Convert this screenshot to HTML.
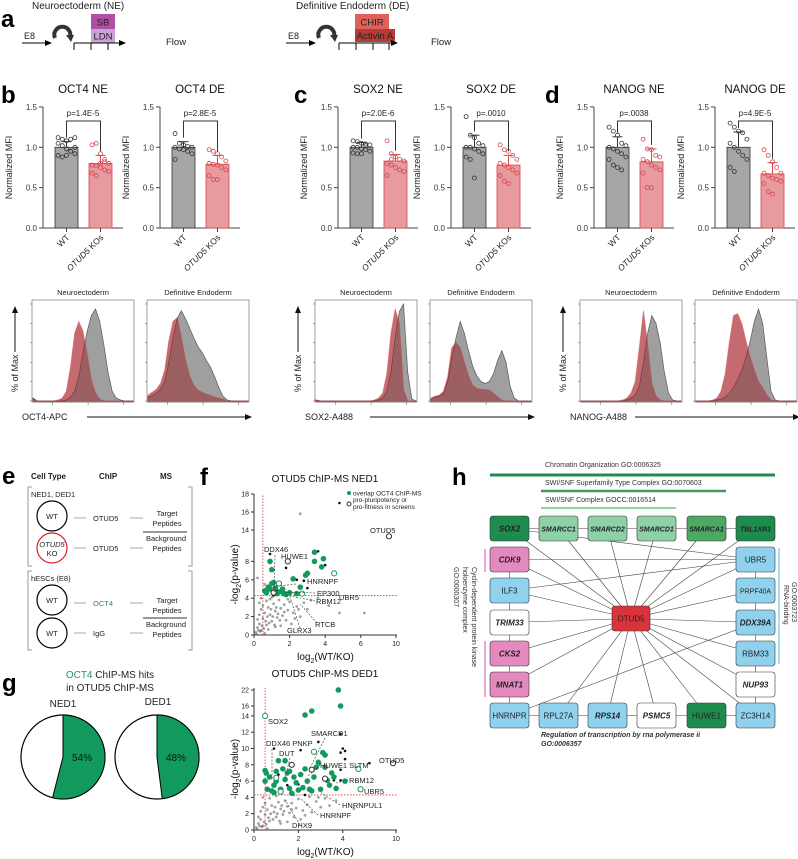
<!DOCTYPE html>
<html><head><meta charset="utf-8">
<style>
body{margin:0;background:#fff;}
svg{display:block;font-family:"Liberation Sans",Arial,sans-serif;}
.L{font-size:24px;font-weight:bold;fill:#000}
</style></head>
<body>
<svg id="fig" width="798" height="859" viewBox="0 0 798 859" xmlns="http://www.w3.org/2000/svg">
<!-- Panel a -->
<g>
 <text class="L" x="1" y="27">a</text>
 <text x="32" y="9" font-size="10" fill="#222">Neuroectoderm (NE)</text>
 <text x="24" y="39" font-size="9" fill="#222">E8</text>
 <line x1="22" y1="43" x2="48" y2="43" stroke="#000" stroke-width="1"/><polygon points="52,43 45,40 45,46" fill="#000"/>
 <path d="M55,38 A8,8 0 1 1 70,37" stroke="#333" stroke-width="4" fill="none"/><polygon points="66,35 74,35 71,42" fill="#333"/>
 <rect x="91" y="14" width="24" height="15" fill="#b04fa6"/>
 <rect x="91" y="29" width="24" height="14" fill="#c9a3d3"/>
 <text x="103" y="25.5" font-size="9.5" text-anchor="middle" fill="#222">SB</text>
 <text x="103" y="39.5" font-size="9.5" text-anchor="middle" fill="#222">LDN</text>
 <line x1="74" y1="43" x2="122" y2="43" stroke="#000"/><polygon points="126,43 119,40 119,46" fill="#000"/>
 <line x1="74" y1="43" x2="74" y2="50" stroke="#000"/><line x1="91" y1="43" x2="91" y2="50" stroke="#000"/><line x1="108" y1="43" x2="108" y2="50" stroke="#000"/>
 <text x="166" y="45" font-size="9.5" fill="#222">Flow</text>
 <text x="296" y="9" font-size="10" fill="#222">Definitive Endoderm (DE)</text>
 <text x="288" y="39" font-size="9" fill="#222">E8</text>
 <line x1="286" y1="43" x2="312" y2="43" stroke="#000"/><polygon points="316,43 309,40 309,46" fill="#000"/>
 <path d="M319,38 A8,8 0 1 1 334,37" stroke="#333" stroke-width="4" fill="none"/><polygon points="330,35 338,35 335,42" fill="#333"/>
 <rect x="355" y="14" width="34" height="15" fill="#e0605a"/>
 <rect x="355" y="29" width="40" height="13" fill="#b83a34"/>
 <text x="372" y="25.5" font-size="9.5" text-anchor="middle" fill="#222">CHIR</text>
 <text x="375" y="39" font-size="9.5" text-anchor="middle" fill="#222">Activin A</text>
 <line x1="339" y1="43" x2="394" y2="43" stroke="#000"/><polygon points="398,43 391,40 391,46" fill="#000"/>
 <line x1="339" y1="43" x2="339" y2="50" stroke="#000"/><line x1="356" y1="43" x2="356" y2="50" stroke="#000"/><line x1="373" y1="43" x2="373" y2="50" stroke="#000"/><line x1="389" y1="43" x2="389" y2="50" stroke="#000"/>
 <text x="431" y="45" font-size="9.5" fill="#222">Flow</text>
</g>
<text class="L" x="1" y="103">b</text>
<text class="L" x="294" y="103">c</text>
<text class="L" x="545" y="103">d</text>
<g id="bars"></g>
<g id="hists"></g>

<!-- Panel e -->
<g font-size="7.5" fill="#222">
 <text class="L" x="2" y="484">e</text>
 <text x="31" y="479" font-size="8" font-weight="bold">Cell Type</text>
 <text x="99" y="479" font-size="8" font-weight="bold">ChIP</text>
 <text x="160" y="479" font-size="8" font-weight="bold">MS</text>
 <path d="M32,487 H28 V566 H32 M188,487 H192 V566 H188" stroke="#999" fill="none"/>
 <path d="M32,571 H28 V650 H32 M188,571 H192 V650 H188" stroke="#999" fill="none"/>
 <text x="31" y="497">NED1, DED1</text>
 <circle cx="52" cy="516" r="15" fill="none" stroke="#000" stroke-width="1.2"/>
 <text x="52" y="519" text-anchor="middle">WT</text>
 <circle cx="52" cy="548" r="15" fill="none" stroke="#d22" stroke-width="1.2"/>
 <text x="52" y="547" text-anchor="middle" font-style="italic">OTUD5</text><text x="52" y="556" text-anchor="middle">KO</text>
 <text x="31" y="581">hESCs (E8)</text>
 <circle cx="52" cy="600" r="15" fill="none" stroke="#000" stroke-width="1.2"/>
 <text x="52" y="603" text-anchor="middle">WT</text>
 <circle cx="52" cy="633" r="15" fill="none" stroke="#000" stroke-width="1.2"/>
 <text x="52" y="636" text-anchor="middle">WT</text>
 <g stroke="#aaa"><line x1="74" y1="518" x2="86" y2="518"/><line x1="74" y1="548" x2="86" y2="548"/><line x1="74" y1="603" x2="86" y2="603"/><line x1="74" y1="633" x2="86" y2="633"/>
 <line x1="130" y1="518" x2="143" y2="518"/><line x1="130" y1="548" x2="143" y2="548"/><line x1="130" y1="603" x2="143" y2="603"/><line x1="130" y1="633" x2="143" y2="633"/></g>
 <text x="93" y="521">OTUD5</text><text x="93" y="551">OTUD5</text>
 <text x="93" y="606" fill="#1a9a5a">OCT4</text><text x="93" y="636">IgG</text>
 <text x="167" y="516" text-anchor="middle">Target</text><text x="167" y="526" text-anchor="middle">Peptides</text>
 <line x1="143" y1="532" x2="187" y2="532" stroke="#333"/>
 <text x="166" y="541" text-anchor="middle">Background</text><text x="167" y="551" text-anchor="middle">Peptides</text>
 <text x="167" y="603" text-anchor="middle">Target</text><text x="167" y="613" text-anchor="middle">Peptides</text>
 <line x1="143" y1="618" x2="187" y2="618" stroke="#333"/>
 <text x="166" y="627" text-anchor="middle">Background</text><text x="167" y="637" text-anchor="middle">Peptides</text>
</g>
<!-- Panel g -->
<g>
 <text class="L" x="2" y="691">g</text>
 <text x="110" y="678" font-size="10" text-anchor="middle" fill="#222"><tspan fill="#1a9a5a">OCT4</tspan> ChIP-MS hits</text>
 <text x="110" y="691" font-size="10" text-anchor="middle" fill="#222">in OTUD5 ChIP-MS</text>
 <text x="63" y="707" font-size="10" text-anchor="middle" fill="#222">NED1</text>
 <text x="158" y="705" font-size="10" text-anchor="middle" fill="#222">DED1</text>
 <g id="pies"></g>
</g>
<g id="scatters">
 <text class="L" x="200" y="485">f</text>
</g>
<g id="network">
 <text class="L" x="452" y="485">h</text>
</g>
</svg>
<script>
// ---------- Bar chart data ----------
const barTitles = ['OCT4 NE','OCT4 DE','SOX2 NE','SOX2 DE','NANOG NE','NANOG DE'];
const wtMeans = [1.0,1.0,1.0,1.0,1.0,1.0];
const koMeans = [0.80,0.79,0.83,0.78,0.82,0.67];
const wtSD = [0.07,0.07,0.06,0.15,0.13,0.19];
const koSD = [0.10,0.11,0.08,0.12,0.16,0.14];
const pLabels = ['p=1.4E-5','p=2.8E-5','p=2.0E-6','p=.0010','p=.0038','p=4.9E-5'];
const wtDots = [
 [1.12,1.10,1.08,1.10,1.12,1.05,1.02,0.98,0.95,0.92,0.90,0.88,0.90,0.95,1.00],
 [1.17,1.05,1.03,1.01,1.00,1.00,0.98,0.97,0.95,0.92,0.85],
 [1.08,1.07,1.05,1.04,1.03,1.00,1.00,0.98,0.97,0.95,0.93,0.92,0.92,1.02],
 [1.38,1.15,1.12,1.05,1.02,1.00,1.00,0.98,0.95,0.92,0.88,0.85,0.62],
 [1.25,1.20,1.15,1.05,1.02,1.00,0.98,0.95,0.92,0.88,0.85,0.78,0.75,0.72],
 [1.30,1.25,1.20,1.18,1.10,1.05,1.00,0.95,0.90,0.85,0.75,0.70]];
const koDots = [
 [1.03,1.05,0.92,0.85,0.80,0.78,0.77,0.75,0.72,0.70,0.68,0.65,0.80,0.82],
 [0.97,0.95,0.92,0.88,0.83,0.80,0.79,0.78,0.75,0.72,0.65,0.60,0.60],
 [1.08,0.92,0.88,0.85,0.83,0.80,0.78,0.75,0.72,0.70,0.65,0.85],
 [1.03,0.97,0.95,0.90,0.85,0.80,0.78,0.75,0.72,0.68,0.65,0.58,0.55],
 [1.10,0.98,0.97,0.90,0.88,0.85,0.82,0.78,0.75,0.72,0.68,0.50,0.50],
 [0.97,0.90,0.82,0.75,0.68,0.68,0.65,0.62,0.60,0.58,0.55,0.45,0.42]];
const yTicks = [0.0,0.5,1.0,1.5];
// ---------- Histogram data (% of max per bin, 25 log bins) ----------
const histTitles = ['Neuroectoderm','Definitive Endoderm','Neuroectoderm','Definitive Endoderm','Neuroectoderm','Definitive Endoderm'];
const histWT = [
 [3,0,0,0,0,0,0,0,1,4,10,25,50,72,88,95,82,58,30,10,3,1,0,0,0],
 [4,5,8,12,20,40,65,85,93,85,75,65,56,50,42,35,25,14,5,1,0,0,0,0,0],
 [1,0,0,0,0,0,0,0,0,0,0,0,0,0,0,1,3,10,30,65,92,100,30,2,0],
 [2,4,5,8,20,45,65,82,70,52,36,26,20,18,20,28,42,52,40,15,3,0,0,0,0],
 [0,0,0,0,0,0,0,0,0,0,0,1,3,6,15,40,70,88,80,60,30,8,1,0,0],
 [0,0,0,0,0,1,2,4,8,14,22,32,45,62,82,95,80,45,10,1,0,0,0,0,0]];
const histKO = [
 [3,0,0,0,0,0,1,3,10,35,70,82,72,48,22,8,2,0,0,0,0,0,0,0,0],
 [6,9,12,18,32,62,82,86,66,42,26,16,11,9,7,6,4,3,2,0,0,0,0,0,0],
 [1,0,0,0,0,0,0,0,0,0,0,0,0,0,1,3,8,28,70,95,80,12,0,0,0],
 [3,5,6,10,25,55,60,55,40,26,16,13,12,12,11,8,4,1,0,0,0,0,0,0,0],
 [0,0,0,0,0,0,0,0,0,0,1,3,8,20,55,93,58,18,5,1,0,0,0,0,0],
 [0,0,0,0,1,3,10,28,60,88,90,80,62,45,32,20,14,6,1,0,0,0,0,0,0]];
const histXLabels = ['OCT4-APC','SOX2-A488','NANOG-A488'];
// ---------- Scatter data ----------
const nedGreen = [[0.7,4.6],[0.8,5.2],[0.9,8.0],[1.0,7.1],[1.0,5.6],[1.1,5.7],[1.2,5.1],[0.9,5.0],[1.3,4.5],[1.5,4.7],[1.7,4.5],[2.2,6.1],[2.6,5.2],[2.9,6.5],[3.0,6.7],[3.4,8.0],[3.4,9.0],[3.8,7.4],[3.9,8.3],[1.8,4.4],[2.4,4.5],[0.6,4.8],[1.6,5.0],[2.0,4.6]];
const nedGreenOpen = [[1.4,5.6],[2.7,4.5],[4.5,6.7]];
const nedBlackOpen = [[1.9,8.0],[9.2,13.3],[1.1,4.6]];
const nedBlack = [[0.9,8.8],[1.8,7.3],[3.6,9.1],[4.0,7.6],[2.4,6.0],[2.8,5.9],[3.0,5.1],[4.8,17.0],[1.3,4.9],[2.4,4.4],[1.1,4.3]];
const nedGray = [[0.1,0.3],[0.2,0.8],[0.3,1.2],[0.4,0.5],[0.5,1.8],[0.6,2.4],[0.7,1.1],[0.8,3.0],[0.9,2.2],[1.0,1.5],[1.1,3.4],[1.2,2.6],[1.3,1.9],[1.4,3.8],[1.5,2.9],[1.6,2.1],[1.7,3.3],[1.8,1.6],[1.9,2.7],[2.0,3.6],[2.2,2.4],[2.4,3.1],[2.6,2.0],[2.8,3.5],[3.0,2.8],[3.2,3.8],[0.3,2.2],[0.5,3.2],[0.4,4.0],[0.6,5.5],[0.2,6.2],[0.8,0.6],[1.2,0.9],[0.2,1.7],[0.7,3.7],[1.0,4.1],[2.1,1.2],[1.5,1.0],[4.8,2.4],[6.2,2.4],[3.6,4.0],[4.2,3.2],[2.6,15.8],[0.9,3.9],[0.15,0.1],[0.35,0.4],[0.45,1.0],[0.55,0.7],[0.65,1.5],[0.75,2.0],[0.85,1.3],[0.95,2.8],[1.05,2.0],[1.15,1.1],[1.25,3.0],[1.35,2.3],[1.45,1.6],[0.25,0.5],[0.6,0.2],[1.7,2.5],[1.9,3.9],[2.3,1.8],[2.5,2.8],[0.4,2.8],[0.3,3.5]];
const dedGreen = [[0.5,7.3],[0.5,6.0],[0.6,5.0],[0.55,7.0],[0.7,6.5],[0.8,4.8],[0.9,5.5],[1.0,7.2],[1.0,6.0],[1.1,8.5],[1.2,5.0],[1.3,7.5],[1.4,8.5],[1.5,7.0],[1.4,6.2],[1.6,5.1],[1.6,7.2],[1.8,6.5],[1.9,5.8],[2.0,4.9],[2.1,6.8],[2.2,5.2],[2.3,7.5],[2.4,6.0],[2.5,5.0],[2.6,4.8],[2.7,6.5],[2.8,7.7],[3.0,5.0],[3.1,9.5],[3.2,9.2],[3.3,6.1],[3.4,5.5],[3.5,7.0],[3.6,6.5],[3.7,5.1],[3.8,22.0],[3.9,16.0],[2.3,14.2],[2.6,15.0],[4.1,6.0],[1.7,4.5],[0.9,4.6],[2.9,8.3],[3.2,7.7]];
const dedGreenOpen = [[0.5,14.0],[2.7,9.6],[4.7,7.5],[4.8,5.0],[1.2,4.7],[1.0,6.4]];
const dedBlackOpen = [[1.7,8.0],[2.6,7.4],[3.2,6.3],[9.5,8.2]];
const dedBlack = [[0.9,10.0],[2.1,9.8],[2.9,10.8],[3.9,11.8],[4.0,10.0],[4.1,9.7],[3.9,9.5],[3.9,7.4],[4.1,8.7],[5.2,8.2],[3.6,6.1],[3.9,6.1],[1.5,5.5],[2.3,4.3],[1.1,6.8],[2.0,5.6]];
const dedGray = [[0.1,0.3],[0.2,0.8],[0.3,1.3],[0.4,0.5],[0.5,1.9],[0.6,2.5],[0.7,1.1],[0.8,3.0],[0.9,2.2],[1.0,1.6],[1.1,3.4],[1.2,2.6],[1.3,1.9],[1.4,3.6],[1.5,2.9],[1.6,2.1],[1.7,3.3],[1.8,1.6],[1.9,2.7],[2.0,3.8],[2.2,2.4],[2.4,3.1],[2.6,2.2],[2.8,3.5],[3.0,2.8],[3.2,3.9],[3.4,3.0],[3.7,3.6],[0.3,2.3],[0.5,3.3],[0.4,4.0],[0.7,3.9],[1.0,4.2],[2.1,1.3],[1.5,1.0],[1.2,0.8],[0.2,1.6],[4.5,2.6],[0.15,0.1],[0.35,0.4],[2.5,4.1],[1.8,4.3],[0.45,1.0],[0.55,0.7],[0.65,1.5],[0.75,2.0],[0.85,1.3],[0.95,2.8],[1.05,2.0],[1.15,1.1],[1.25,3.0],[1.35,2.3],[0.25,0.5],[0.6,0.2],[1.7,2.5],[2.3,1.8],[0.4,2.8],[2.9,4.0]];
// ---------- Pie data ----------
const pieLabels = ['NED1','DED1'];
const piePercents = [54,48];

const NS='http://www.w3.org/2000/svg';
function mk(parent,tag,attrs,text){const e=document.createElementNS(NS,tag);for(const k in attrs)e.setAttribute(k,attrs[k]);if(text!==undefined)e.textContent=text;parent.appendChild(e);return e;}

// ---------- Bars ----------
const barsG=document.getElementById('bars');
const axisXs=[43,160,338,451,594,715];
const y0=228, yScale=80.7;
function by(v){return y0-v*yScale;}
barTitles.forEach((title,c)=>{
 const ax=axisXs[c];
 const g=mk(barsG,'g',{});
 
 
 const tt=mk(g,'text',{x:ax+40,y:93,'text-anchor':'middle','font-size':11.5,fill:'#111'},title);
 
 
 const yl=mk(g,'text',{x:0,y:0,transform:`translate(${ax-31},${by(0.75)}) rotate(-90)`,'text-anchor':'middle','font-size':9,fill:'#222'},'Normalized MFI');
 
 
 mk(g,'line',{x1:ax,y1:by(1.5),x2:ax,y2:y0,stroke:'#444'});
 mk(g,'line',{x1:ax,y1:y0,x2:ax+80,y2:y0,stroke:'#444'});
 yTicks.forEach(t=>{mk(g,'line',{x1:ax-4,y1:by(t),x2:ax,y2:by(t),stroke:'#444'});
  const tl=mk(g,'text',{x:ax-6,y:by(t)+3,'text-anchor':'end','font-size':8,fill:'#333'},t.toFixed(1));
  
  });
 const groups=[{m:wtMeans[c],sd:wtSD[c],d:wtDots[c],x:ax+12,fill:'#a6a6a6',stroke:'#333',dot:'#333',name:'wt'},
               {m:koMeans[c],sd:koSD[c],d:koDots[c],x:ax+46,fill:'#e89a9e',stroke:'#d9454c',dot:'#d9454c',name:'ko'}];
 groups.forEach(gr=>{
  const r=mk(g,'rect',{x:gr.x,y:by(gr.m),width:23,height:y0-by(gr.m),fill:gr.fill,stroke:gr.stroke,'stroke-width':0.8});
  
  
  const cx=gr.x+11.5;
  mk(g,'line',{x1:cx,y1:by(gr.m+gr.sd),x2:cx,y2:by(gr.m),stroke:gr.dot});
  mk(g,'line',{x1:cx-5,y1:by(gr.m+gr.sd),x2:cx+5,y2:by(gr.m+gr.sd),stroke:gr.dot});
  gr.d.forEach((v,i)=>{const ci=mk(g,'circle',{cx:cx+((i%5)-2)*4.2,cy:by(v),r:2,fill:'none',stroke:gr.dot,'stroke-width':0.8});
   
   });
  mk(g,'line',{x1:cx,y1:y0,x2:cx,y2:y0+4,stroke:'#444'});
 });
 const topY=121;
 mk(g,'path',{d:`M${ax+23.5},${by(1+wtSD[c])-4} V${topY} H${ax+57.5} V${by(koMeans[c]+koSD[c])-4}`,stroke:'#333',fill:'none'});
 const pl=mk(g,'text',{x:ax+40,y:topY-5,'text-anchor':'middle','font-size':8,fill:'#222'},pLabels[c]);
 
 
 const w=mk(g,'text',{x:0,y:0,transform:`translate(${ax+27},${y0+10}) rotate(-45)`,'text-anchor':'end','font-size':8.5,fill:'#222'},'WT');
 
 
 const k=mk(g,'text',{x:0,y:0,transform:`translate(${ax+61},${y0+10}) rotate(-45)`,'text-anchor':'end','font-size':8.5,fill:'#222'});
 
 
 mk(k,'tspan',{'font-style':'italic'},'OTUD5');mk(k,'tspan',{},' KOs');
});

// ---------- Histograms ----------
const hG=document.getElementById('hists');
const boxXs=[32,147,315,430,580,695];
const hTop=300,hBot=402,bw=102;
histTitles.forEach((t,h)=>{
 const bx=boxXs[h];
 const g=mk(hG,'g',{});
 
 
 const tl=mk(g,'text',{x:bx+bw/2,y:hTop-5,'text-anchor':'middle','font-size':7.5,fill:'#222'},t);
 
 
 const hx=i=>bx+1+i*(bw-2)/24, hy=v=>hBot-1-v*0.97;
 const mkPath=arr=>'M'+hx(0)+','+hBot+' '+arr.map((v,i)=>'L'+hx(i).toFixed(1)+','+hy(v).toFixed(1)).join(' ')+' L'+hx(24)+','+hBot+' Z';
 const p1=mk(g,'path',{d:mkPath(histKO[h]),fill:'#e08a8e',opacity:0.85,stroke:'none'});
 
 
 const p2=mk(g,'path',{d:mkPath(histWT[h]),fill:'#808080',opacity:0.75,stroke:'#222','stroke-width':0.7});
 
 
 const p3=mk(g,'path',{d:mkPath(histKO[h]),fill:'#a03035',opacity:0.45,stroke:'#c41e25','stroke-width':0.9});
 
 
 mk(g,'rect',{x:bx,y:hTop,width:bw,height:hBot-hTop,fill:'none',stroke:'#888','stroke-width':0.8});
 [0,20,40,60,80,100].forEach(v=>{mk(g,'line',{x1:bx-2,y1:hy(v),x2:bx,y2:hy(v),stroke:'#555','stroke-width':0.5});});
 [0.2,0.55,0.9].forEach(f=>{mk(g,'line',{x1:bx+bw*f,y1:hBot,x2:bx+bw*f,y2:hBot+3,stroke:'#555','stroke-width':0.5});});
 if(h%2===0){
  const yl=mk(g,'text',{x:0,y:0,transform:`translate(${bx-14},${hBot-10}) rotate(-90)`,'font-size':9,fill:'#222'},'% of Max');
  
  
  mk(g,'line',{x1:bx-17,y1:hBot-50,x2:bx-17,y2:hTop+12,stroke:'#111'});
  mk(g,'polygon',{points:`${bx-17},${hTop+6} ${bx-20},${hTop+13} ${bx-14},${hTop+13}`,fill:'#111'});
  const xl=mk(g,'text',{x:bx-10,y:hBot+18,'font-size':9,fill:'#222'},histXLabels[h/2]);
  
  
  mk(g,'line',{x1:bx+55,y1:hBot+15,x2:bx+bw*2+10,y2:hBot+15,stroke:'#111'});
  mk(g,'polygon',{points:`${bx+bw*2+16},${hBot+15} ${bx+bw*2+9},${hBot+12} ${bx+bw*2+9},${hBot+18}`,fill:'#111'});
 }
});

// ---------- Pies ----------
const pG=document.getElementById('pies');
const pieCx=[63,157], pieCy=757, pieR=42;
piePercents.forEach((p,i)=>{
 const cx=pieCx[i];
 const bg=mk(pG,'circle',{cx:cx,cy:pieCy,r:pieR,fill:'#fff',stroke:'#000','stroke-width':1.2});
 
 
 const a=p/100*2*Math.PI;
 const ex=cx+pieR*Math.sin(a), ey=pieCy-pieR*Math.cos(a);
 const s=mk(pG,'path',{d:`M${cx},${pieCy} L${cx},${pieCy-pieR} A${pieR},${pieR} 0 ${p>50?1:0} 1 ${ex},${ey} Z`,fill:'#129a5e',stroke:'#000','stroke-width':1});
 
 
 const l=mk(pG,'text',{x:cx+19,y:pieCy+4,'text-anchor':'middle','font-size':10,fill:'#111'},p+'%');
 
 
});

// ---------- Scatters ----------
const sG=document.getElementById('scatters');
function scatter(cfg){
 const g=mk(sG,'g',{});
 
 
 const {sx,sy,x0,yb,xEnd,yTop}=cfg;
 const t=mk(g,'text',{x:cfg.titleX,y:cfg.titleY,'text-anchor':'middle','font-size':10,fill:'#111'},cfg.title);
 
 
 mk(g,'line',{x1:x0,y1:yb,x2:x0,y2:yTop,stroke:'#333'});
 mk(g,'line',{x1:x0,y1:yb,x2:xEnd,y2:yb,stroke:'#333'});
 cfg.xt.forEach(v=>{mk(g,'line',{x1:sx(v),y1:yb,x2:sx(v),y2:yb+3,stroke:'#333'});mk(g,'text',{x:sx(v),y:yb+11,'text-anchor':'middle','font-size':7,fill:'#222'},v);});
 cfg.yt.forEach(v=>{mk(g,'line',{x1:x0-3,y1:sy(v),x2:x0,y2:sy(v),stroke:'#333'});mk(g,'text',{x:x0-5,y:sy(v)+2.5,'text-anchor':'end','font-size':7,fill:'#222'},v);});
 const xl=mk(g,'text',{x:(x0+xEnd)/2,y:yb+25,'text-anchor':'middle','font-size':10,fill:'#111'});
 
 
 mk(xl,'tspan',{},'log');mk(xl,'tspan',{'font-size':7,dy:3},'2');mk(xl,'tspan',{dy:-3},'(WT/KO)');
 const yl=mk(g,'text',{x:0,y:0,transform:`translate(${x0-16},${(yb+yTop)/2+10}) rotate(-90)`,'text-anchor':'middle','font-size':10,fill:'#111'});
 
 
 mk(yl,'tspan',{},'-log');mk(yl,'tspan',{'font-size':7,dy:3},'2');mk(yl,'tspan',{dy:-3},'(p-value)');
 mk(g,'line',{x1:sx(0.5),y1:yb,x2:sx(0.5),y2:yTop,stroke:'#e03030','stroke-dasharray':'1.5,1.5','stroke-width':0.8});
 mk(g,'line',{x1:x0,y1:sy(4.3),x2:xEnd,y2:sy(4.3),stroke:'#e03030','stroke-dasharray':'1.5,1.5','stroke-width':0.8});
 cfg.gray.forEach(p=>{const c=mk(g,'circle',{cx:sx(p[0]),cy:sy(p[1]),r:1.4,fill:'#555',opacity:0.55});});
 cfg.black.forEach(p=>{const c=mk(g,'circle',{cx:sx(p[0]),cy:sy(p[1]),r:1.3,fill:'#111'});});
 cfg.green.forEach(p=>{const c=mk(g,'circle',{cx:sx(p[0]),cy:sy(p[1]),r:2.8,fill:'#129a5e'});});
 cfg.greenOpen.forEach(p=>{const c=mk(g,'circle',{cx:sx(p[0]),cy:sy(p[1]),r:2.6,fill:'#fff',stroke:'#129a5e'});});
 cfg.blackOpen.forEach(p=>{const c=mk(g,'circle',{cx:sx(p[0]),cy:sy(p[1]),r:2.6,fill:'#fff',stroke:'#333'});});
 cfg.labels.forEach(l=>{const t=mk(g,'text',{x:l[0],y:l[1],'font-size':7.5,fill:'#222'},l[2]);});
 cfg.leaders.forEach(l=>mk(g,'line',{x1:l[0],y1:l[1],x2:l[2],y2:l[3],stroke:'#333','stroke-dasharray':'2,1.5','stroke-width':0.6}));
 return g;
}
const nedSx=v=>v<=6.2?254+v*17.8:361+(v-6)*8.75;
const nedSy=v=>v<=10?635-v*9.2:548-(v-12)*9;
const ng=scatter({name:'scatter-ned1',title:'OTUD5 ChIP-MS NED1',titleX:325,titleY:482,sx:nedSx,sy:nedSy,x0:254,yb:635,xEnd:397,yTop:494,
 xt:[0,2,4,6,10],yt:[0,2,4,6,8,14,16,18],gray:nedGray,black:nedBlack,green:nedGreen,greenOpen:nedGreenOpen,blackOpen:nedBlackOpen,
 labels:[[264,552,'DDX46'],[281,559,'HUWE1'],[339,600,'UBR5'],[307,584,'HNRNPF'],[317,596,'EP300'],[316,604,'RBM12'],[315,627,'RTCB'],[287,633,'GLRX3'],[370,533,'OTUD5']],
 leaders:[[275,555,274,594],[296,584,270,587],[315,593,283,592],[315,601,285,595],[317,623,300,604],[300,628,290,597]]});
const lg=mk(ng,'g',{});


mk(lg,'circle',{cx:349,cy:493,r:2,fill:'#129a5e'});mk(lg,'text',{x:353,y:495.5,'font-size':6.5,fill:'#222'},'overlap OCT4 ChIP-MS');
mk(lg,'circle',{cx:349,cy:504,r:2,fill:'none',stroke:'#333'});mk(lg,'text',{x:353,y:502,'font-size':6.5,fill:'#222'},'pro-pluripotency or');mk(lg,'text',{x:353,y:509,'font-size':6.5,fill:'#222'},'pro-fitness in screens');
const dedSx=v=>v<=5.3?254+v*22.2:366+(v-5)*6;
const dedSy=v=>v<=14?830-v*8.15:(v<=16?716-(v-14)*5:706-(v-16)*2.67);
scatter({name:'scatter-ded1',title:'OTUD5 ChIP-MS DED1',titleX:325,titleY:677,sx:dedSx,sy:dedSy,x0:254,yb:830,xEnd:397,yTop:688,
 xt:[0,2,4,10],yt:[0,2,4,6,8,10,12,14,16,22],gray:dedGray,black:dedBlack,green:dedGreen,greenOpen:dedGreenOpen,blackOpen:dedBlackOpen,
 labels:[[268,724,'SOX2'],[311,736,'SMARCD1'],[266,746,'DDX46 PNKP'],[279,756,'DUT'],[320,768,'HUWE1 SLTM'],[379,763,'OTUD5'],[349,783,'RBM12'],[364,794,'UBR5'],[342,808,'HNRNPUL1'],[320,818,'HNRNPF'],[292,828,'DHX9']],
 leaders:[[325,738,310,768],[272,749,272,780],[290,758,285,778],[320,765,308,776],[348,780,336,783],[340,805,320,792],[318,815,300,798],[300,825,285,800]]});

// ---------- Network ----------
const net=document.getElementById('network');
const nodeNames=['SOX2','SMARCC1','SMARCD2','SMARCD1','SMARCA1','TBL1XR1','CDK9','ILF3','TRIM33','CKS2','MNAT1','UBR5','PRPF40A','DDX39A','RBM33','NUP93','HNRNPR','RPL27A','RPS14','PSMC5','HUWE1','ZC3H14','OTUD5'];
const nodeColors={SOX2:'#1e8c4e',SMARCC1:'#8fd1a6',SMARCD2:'#8fd1a6',SMARCD1:'#8fd1a6',SMARCA1:'#4da863',TBL1XR1:'#1e8c4e',CDK9:'#e58ac0',ILF3:'#90d2ee',TRIM33:'#fff',CKS2:'#e58ac0',MNAT1:'#e58ac0',UBR5:'#90d2ee',PRPF40A:'#90d2ee',DDX39A:'#90d2ee',RBM33:'#90d2ee',NUP93:'#fff',HNRNPR:'#90d2ee',RPL27A:'#90d2ee',RPS14:'#90d2ee',PSMC5:'#fff',HUWE1:'#1e8c4e',ZC3H14:'#90d2ee',OTUD5:'#d9343c'};
const italicNodes=['SOX2','SMARCC1','SMARCD2','SMARCD1','SMARCA1','TBL1XR1','CDK9','TRIM33','CKS2','MNAT1','DDX39A','NUP93','RPS14','PSMC5'];
const pos={};
const colX=[490,539,588,637,687,736], rowY=[516,547,578,610,641,672,703];
['SOX2','SMARCC1','SMARCD2','SMARCD1','SMARCA1','TBL1XR1'].forEach((n,i)=>pos[n]=[colX[i],rowY[0]]);
['CDK9','ILF3','TRIM33','CKS2','MNAT1','HNRNPR'].forEach((n,i)=>pos[n]=[colX[0],rowY[i+1]]);
['UBR5','PRPF40A','DDX39A','RBM33','NUP93','ZC3H14'].forEach((n,i)=>pos[n]=[colX[5],rowY[i+1]]);
['RPL27A','RPS14','PSMC5','HUWE1'].forEach((n,i)=>pos[n]=[colX[i+1],rowY[6]]);
pos.OTUD5=[612,606];
const edges=[['SOX2','SMARCC1'],['SMARCC1','SMARCD2'],['SMARCD2','SMARCD1'],['SMARCD1','SMARCA1'],['SMARCA1','TBL1XR1'],
 ['CDK9','ILF3'],['ILF3','TRIM33'],['TRIM33','CKS2'],['CKS2','MNAT1'],['MNAT1','HNRNPR'],['HNRNPR','RPL27A'],['RPL27A','RPS14'],['RPS14','PSMC5'],['PSMC5','HUWE1'],['HUWE1','ZC3H14'],
 ['UBR5','PRPF40A'],['PRPF40A','DDX39A'],['DDX39A','RBM33'],['RBM33','NUP93'],['NUP93','ZC3H14'],
 ['SOX2','UBR5'],['CDK9','UBR5'],['ILF3','UBR5'],['HNRNPR','DDX39A'],['TBL1XR1','OTUD5'],['SOX2','OTUD5'],['SMARCC1','OTUD5'],['SMARCD2','OTUD5'],['SMARCD1','OTUD5'],['SMARCA1','OTUD5'],
 ['CDK9','OTUD5'],['ILF3','OTUD5'],['TRIM33','OTUD5'],['CKS2','OTUD5'],['MNAT1','OTUD5'],['RPL27A','OTUD5'],['RPS14','OTUD5'],['PSMC5','OTUD5'],['HUWE1','OTUD5'],['ZC3H14','OTUD5'],
 ['UBR5','OTUD5'],['PRPF40A','OTUD5'],['DDX39A','OTUD5'],['RBM33','OTUD5'],['NUP93','OTUD5']];
const ctr=n=>n==='OTUD5'?[631,618.5]:[pos[n][0]+19.5,pos[n][1]+12.5];
edges.forEach(e=>{const a=ctr(e[0]),b=ctr(e[1]);
 const l=mk(net,'line',{x1:a[0],y1:a[1],x2:b[0],y2:b[1],stroke:'#444','stroke-width':0.6});
 
 });
nodeNames.forEach(n=>{const p=pos[n];const w=n==='OTUD5'?38:39,h=25;
 const r=mk(net,'rect',{x:p[0],y:p[1],width:w,height:h,rx:3,fill:nodeColors[n],stroke:'#333','stroke-width':0.6});
 
 
 const it=italicNodes.includes(n);
 const tx=mk(net,'text',{x:p[0]+w/2,y:p[1]+h/2+3,'text-anchor':'middle','font-size':n.length>6?7:8,'font-style':it?'italic':'normal','font-weight':it?'bold':'normal',fill:'#222'},n);
 
 });
const goBars=[['Chromatin Organization GO:0006325',545,467,490,775,475,'#1e8c4e',3],['SWI/SNF Superfamily Type Complex GO:0070603',545,485,541,726,491,'#3c9e58',2.5],['SWI/SNF Complex GOCC:0016514',545,502,541,676,508,'#8fd1a6',2]];
goBars.forEach(b=>{const t=mk(net,'text',{x:b[1],y:b[2],'font-size':7,fill:'#333'},b[0]);
 const l=mk(net,'line',{x1:b[3],y1:b[5],x2:b[4],y2:b[5],stroke:b[6],'stroke-width':b[7]});});
mk(net,'line',{x1:485,y1:549,x2:485,y2:572,stroke:'#e58ac0','stroke-width':1.5});
mk(net,'line',{x1:485,y1:641,x2:485,y2:697,stroke:'#e58ac0','stroke-width':1.5});
mk(net,'line',{x1:779,y1:548,x2:779,y2:664,stroke:'#90d2ee','stroke-width':1.5});
const lt=mk(net,'text',{x:0,y:0,transform:'translate(472,567) rotate(90)','font-size':7,fill:'#333','text-anchor':'start'});


mk(lt,'tspan',{x:0,dy:0},'Cyclin-dependent protein kinase');mk(lt,'tspan',{x:0,dy:9},'holoenzyme complex');mk(lt,'tspan',{x:0,dy:9},'GO:0000307');
const rt=mk(net,'text',{x:0,y:0,transform:'translate(784,585) rotate(90)','font-size':7,fill:'#333'});


mk(rt,'tspan',{x:0,dy:0},'RNA-binding');mk(rt,'tspan',{x:-3,dy:-8},'GO:0003723');
const bt=mk(net,'text',{x:541,y:737,'font-size':7,'font-style':'italic','font-weight':'bold',fill:'#333'},'Regulation of transcription by rna polymerase ii');


const bt2=mk(net,'text',{x:541,y:746,'font-size':7,'font-style':'italic','font-weight':'bold',fill:'#333'},'GO:0006357');


</script>
</body></html>
